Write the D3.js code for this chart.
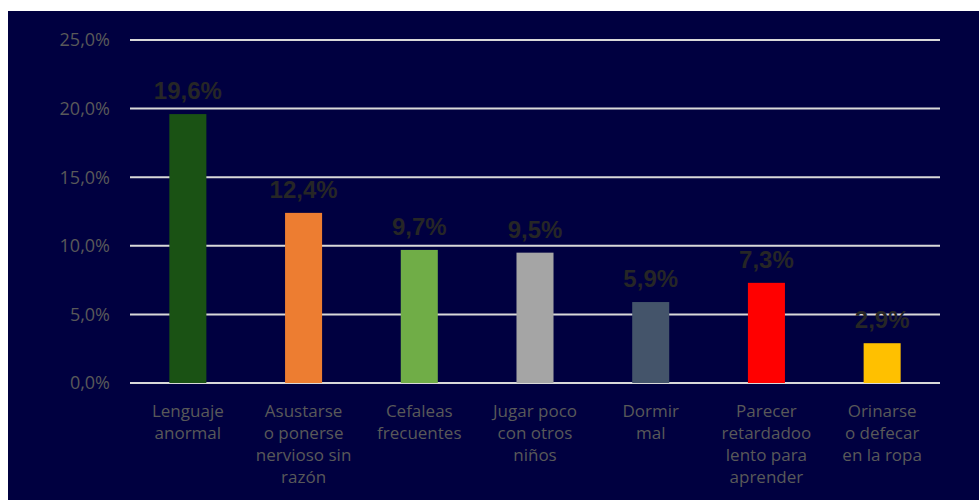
<!DOCTYPE html>
<html>
<head>
<meta charset="utf-8">
<script src="https://cdn.jsdelivr.net/npm/d3@7"></script>
<style>
  body { margin: 0; background: #ffffff; }
  svg { display: block; }
</style>
</head>
<body>
<svg id="chart" width="979" height="500"></svg>
<script>
// data
const categories = [
	["Lenguaje", "anormal"],
	["Asustarse", "o ponerse", "nervioso sin", "razón"],
	["Cefaleas", "frecuentes"],
	["Jugar poco", "con otros", "niños"],
	["Dormir", "mal"],
	["Parecer", "retardadoo", "lento para", "aprender"],
	["Orinarse", "o defecar", "en la ropa"]
];
const values = [19.6, 12.4, 9.7, 9.5, 5.9, 7.3, 2.9];
const barColors = ["#1a5214", "#ed7d31", "#70ad47", "#a5a5a5", "#44546a", "#ff0000", "#ffc000"];
const yTicks = [0, 5, 10, 15, 20, 25];

const svg = d3.select("#chart");
const fmt = v => d3.format(".1f")(v).replace(".", ",") + "%";

// dark background panel
svg.append("rect")
	.attr("x", 8).attr("y", 11)
	.attr("width", 971).attr("height", 489)
	.attr("fill", "#000040");

const x = d3.scaleBand()
	.domain(d3.range(categories.length))
	.range([130, 940])
	.paddingInner(0.68)
	.paddingOuter(0.34);

const y = d3.scaleLinear()
	.domain([0, 25])
	.range([383, 40]);

// gridlines
svg.append("g")
	.selectAll("line")
	.data(yTicks)
	.join("line")
	.attr("x1", 130).attr("x2", 940)
	.attr("y1", d => y(d)).attr("y2", d => y(d))
	.attr("stroke", "#d9d9d9")
	.attr("stroke-width", 2);

// y tick labels
svg.append("g")
	.selectAll("text")
	.data(yTicks)
	.join("text")
	.attr("x", 110)
	.attr("y", d => y(d))
	.attr("dy", "0.35em")
	.attr("text-anchor", "end")
	.attr("fill", "#595959")
	.style("font-family", "'Open Sans', sans-serif")
	.style("font-size", "18px")
	.text(d => fmt(d));

// bars
svg.append("g")
	.selectAll("rect")
	.data(values)
	.join("rect")
	.attr("x", (d, i) => x(i))
	.attr("y", d => y(d))
	.attr("width", x.bandwidth())
	.attr("height", d => y(0) - y(d))
	.attr("fill", (d, i) => barColors[i]);

// value labels
svg.append("g")
	.selectAll("text")
	.data(values)
	.join("text")
	.attr("x", (d, i) => x(i) + x.bandwidth() / 2)
	.attr("y", d => y(d) - 15)
	.attr("text-anchor", "middle")
	.attr("fill", "#262626")
	.style("font-family", "'Liberation Sans', Arial, sans-serif")
	.style("font-weight", "bold")
	.style("font-size", "24px")
	.text(d => fmt(d));

// category labels
const cat = svg.append("g")
	.selectAll("text")
	.data(categories)
	.join("text")
	.attr("x", (d, i) => x(i) + x.bandwidth() / 2)
	.attr("y", 417)
	.attr("text-anchor", "middle")
	.attr("fill", "#595959")
	.style("font-family", "'Open Sans', sans-serif")
	.style("font-size", "17px");

cat.selectAll("tspan")
	.data(d => d)
	.join("tspan")
	.attr("x", function() { return d3.select(this.parentNode).attr("x"); })
	.attr("dy", (d, i) => i === 0 ? 0 : 22)
	.text(d => d);
</script>
</body>
</html>
